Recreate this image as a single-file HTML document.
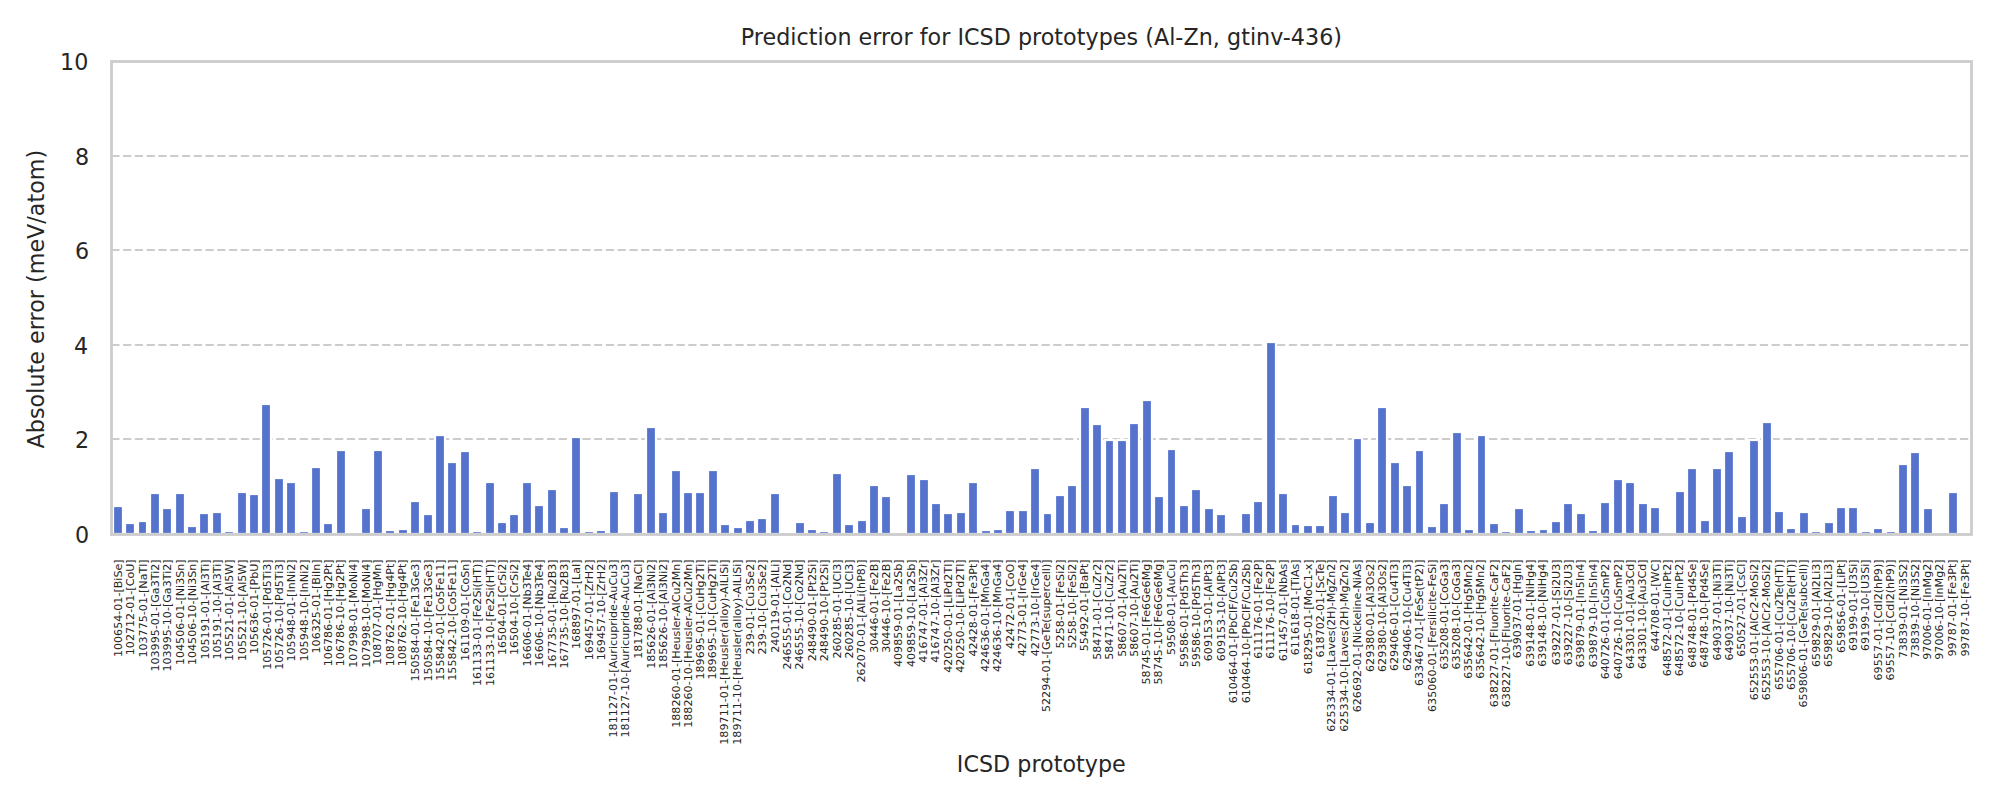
<!DOCTYPE html>
<html lang="en"><head><meta charset="utf-8"><title>Prediction error for ICSD prototypes (Al-Zn, gtinv-436)</title>
<style>html,body{margin:0;padding:0;background:#fff}body{width:2000px;height:800px;overflow:hidden}svg{display:block}text{font-family:"DejaVu Sans","Liberation Sans",sans-serif;fill:#262626}.t8{font-size:22.2222px}.t4{font-size:11.1111px}</style></head><body>
<svg width="2000" height="800" viewBox="0 0 2000 800">
<rect width="2000" height="800" fill="#fff"/>
<g stroke="#cccccc" stroke-width="2.2222" stroke-dasharray="8.2205 3.5548" fill="none">
<line x1="111.30" y1="439" x2="1971.20" y2="439"/>
<line x1="111.30" y1="345" x2="1971.20" y2="345"/>
<line x1="111.30" y1="250" x2="1971.20" y2="250"/>
<line x1="111.30" y1="156" x2="1971.20" y2="156"/>
</g>
<g fill="#5573cd" stroke="#fff" stroke-width="2.2222" stroke-linejoin="miter">
<rect x="113" y="506" width="10" height="28"/>
<rect x="125" y="523" width="10" height="11"/>
<rect x="138" y="521" width="9" height="13"/>
<rect x="150" y="493" width="10" height="41"/>
<rect x="162" y="508" width="10" height="26"/>
<rect x="175" y="493" width="10" height="41"/>
<rect x="187" y="526" width="10" height="8"/>
<rect x="199" y="513" width="10" height="21"/>
<rect x="212" y="512" width="10" height="22"/>
<rect x="224" y="531" width="10" height="3"/>
<rect x="237" y="492" width="10" height="42"/>
<rect x="249" y="494" width="10" height="40"/>
<rect x="261" y="404" width="10" height="130"/>
<rect x="274" y="478" width="10" height="56"/>
<rect x="286" y="482" width="10" height="52"/>
<rect x="299" y="531" width="10" height="3"/>
<rect x="311" y="467" width="10" height="67"/>
<rect x="323" y="523" width="10" height="11"/>
<rect x="336" y="450" width="10" height="84"/>
<rect x="361" y="508" width="10" height="26"/>
<rect x="373" y="450" width="10" height="84"/>
<rect x="385" y="530" width="10" height="4"/>
<rect x="398" y="529" width="10" height="5"/>
<rect x="410" y="501" width="10" height="33"/>
<rect x="423" y="514" width="10" height="20"/>
<rect x="435" y="435" width="10" height="99"/>
<rect x="447" y="462" width="10" height="72"/>
<rect x="460" y="451" width="10" height="83"/>
<rect x="472" y="531" width="10" height="3"/>
<rect x="485" y="482" width="10" height="52"/>
<rect x="497" y="522" width="10" height="12"/>
<rect x="509" y="514" width="10" height="20"/>
<rect x="522" y="482" width="10" height="52"/>
<rect x="534" y="505" width="10" height="29"/>
<rect x="547" y="489" width="10" height="45"/>
<rect x="559" y="527" width="10" height="7"/>
<rect x="571" y="437" width="10" height="97"/>
<rect x="584" y="531" width="10" height="3"/>
<rect x="596" y="530" width="10" height="4"/>
<rect x="609" y="491" width="10" height="43"/>
<rect x="633" y="493" width="10" height="41"/>
<rect x="646" y="427" width="10" height="107"/>
<rect x="658" y="512" width="10" height="22"/>
<rect x="671" y="470" width="10" height="64"/>
<rect x="683" y="492" width="10" height="42"/>
<rect x="695" y="492" width="10" height="42"/>
<rect x="708" y="470" width="10" height="64"/>
<rect x="720" y="524" width="10" height="10"/>
<rect x="733" y="527" width="10" height="7"/>
<rect x="745" y="520" width="10" height="14"/>
<rect x="757" y="518" width="10" height="16"/>
<rect x="770" y="493" width="10" height="41"/>
<rect x="795" y="522" width="10" height="12"/>
<rect x="807" y="529" width="10" height="5"/>
<rect x="819" y="531" width="10" height="3"/>
<rect x="832" y="473" width="10" height="61"/>
<rect x="844" y="524" width="10" height="10"/>
<rect x="857" y="520" width="10" height="14"/>
<rect x="869" y="485" width="10" height="49"/>
<rect x="881" y="496" width="10" height="38"/>
<rect x="906" y="474" width="10" height="60"/>
<rect x="919" y="479" width="10" height="55"/>
<rect x="931" y="503" width="10" height="31"/>
<rect x="943" y="513" width="10" height="21"/>
<rect x="956" y="512" width="10" height="22"/>
<rect x="968" y="482" width="10" height="52"/>
<rect x="981" y="530" width="10" height="4"/>
<rect x="993" y="529" width="10" height="5"/>
<rect x="1005" y="510" width="10" height="24"/>
<rect x="1018" y="510" width="10" height="24"/>
<rect x="1030" y="468" width="10" height="66"/>
<rect x="1043" y="513" width="9" height="21"/>
<rect x="1055" y="495" width="10" height="39"/>
<rect x="1067" y="485" width="10" height="49"/>
<rect x="1080" y="407" width="10" height="127"/>
<rect x="1092" y="424" width="10" height="110"/>
<rect x="1105" y="440" width="9" height="94"/>
<rect x="1117" y="440" width="10" height="94"/>
<rect x="1129" y="423" width="10" height="111"/>
<rect x="1142" y="400" width="10" height="134"/>
<rect x="1154" y="496" width="10" height="38"/>
<rect x="1167" y="449" width="9" height="85"/>
<rect x="1179" y="505" width="10" height="29"/>
<rect x="1191" y="489" width="10" height="45"/>
<rect x="1204" y="508" width="10" height="26"/>
<rect x="1216" y="514" width="10" height="20"/>
<rect x="1241" y="513" width="10" height="21"/>
<rect x="1253" y="501" width="10" height="33"/>
<rect x="1266" y="342" width="10" height="192"/>
<rect x="1278" y="493" width="10" height="41"/>
<rect x="1291" y="524" width="9" height="10"/>
<rect x="1303" y="525" width="10" height="9"/>
<rect x="1315" y="525" width="10" height="9"/>
<rect x="1328" y="495" width="10" height="39"/>
<rect x="1340" y="512" width="10" height="22"/>
<rect x="1353" y="438" width="9" height="96"/>
<rect x="1365" y="522" width="10" height="12"/>
<rect x="1377" y="407" width="10" height="127"/>
<rect x="1390" y="462" width="10" height="72"/>
<rect x="1402" y="485" width="10" height="49"/>
<rect x="1415" y="450" width="9" height="84"/>
<rect x="1427" y="526" width="10" height="8"/>
<rect x="1439" y="503" width="10" height="31"/>
<rect x="1452" y="432" width="10" height="102"/>
<rect x="1464" y="529" width="10" height="5"/>
<rect x="1477" y="435" width="9" height="99"/>
<rect x="1489" y="523" width="10" height="11"/>
<rect x="1501" y="531" width="10" height="3"/>
<rect x="1514" y="508" width="10" height="26"/>
<rect x="1526" y="530" width="10" height="4"/>
<rect x="1539" y="529" width="9" height="5"/>
<rect x="1551" y="521" width="10" height="13"/>
<rect x="1563" y="503" width="10" height="31"/>
<rect x="1576" y="513" width="10" height="21"/>
<rect x="1588" y="530" width="10" height="4"/>
<rect x="1600" y="502" width="10" height="32"/>
<rect x="1613" y="479" width="10" height="55"/>
<rect x="1625" y="482" width="10" height="52"/>
<rect x="1638" y="503" width="10" height="31"/>
<rect x="1650" y="507" width="10" height="27"/>
<rect x="1675" y="491" width="10" height="43"/>
<rect x="1687" y="468" width="10" height="66"/>
<rect x="1700" y="520" width="10" height="14"/>
<rect x="1712" y="468" width="10" height="66"/>
<rect x="1724" y="451" width="10" height="83"/>
<rect x="1737" y="516" width="10" height="18"/>
<rect x="1749" y="440" width="10" height="94"/>
<rect x="1762" y="422" width="10" height="112"/>
<rect x="1774" y="511" width="10" height="23"/>
<rect x="1786" y="528" width="10" height="6"/>
<rect x="1799" y="512" width="10" height="22"/>
<rect x="1811" y="531" width="10" height="3"/>
<rect x="1824" y="522" width="10" height="12"/>
<rect x="1836" y="507" width="10" height="27"/>
<rect x="1848" y="507" width="10" height="27"/>
<rect x="1861" y="531" width="10" height="3"/>
<rect x="1873" y="528" width="10" height="6"/>
<rect x="1886" y="531" width="10" height="3"/>
<rect x="1898" y="464" width="10" height="70"/>
<rect x="1910" y="452" width="10" height="82"/>
<rect x="1923" y="508" width="10" height="26"/>
<rect x="1948" y="492" width="10" height="42"/>
</g>
<rect x="111.5" y="61.5" width="1860" height="473" fill="none" stroke="#cccccc" stroke-width="2.7778"/>
<g class="t8">
<text x="75" y="543" textLength="14.250" lengthAdjust="spacing">0</text>
<text x="75" y="448" textLength="14.125" lengthAdjust="spacing">2</text>
<text x="74" y="354" textLength="14.125" lengthAdjust="spacing">4</text>
<text x="75" y="259" textLength="14.125" lengthAdjust="spacing">6</text>
<text x="75" y="165" textLength="14.125" lengthAdjust="spacing">8</text>
<text x="60" y="70" textLength="28.375" lengthAdjust="spacing">10</text>
</g>
<g class="t4" text-anchor="end">
<text transform="translate(122.00 559.35) rotate(-90)" textLength="97.750" lengthAdjust="spacing">100654-01-[BiSe]</text>
<text transform="translate(134.00 559.35) rotate(-90)" textLength="95.875" lengthAdjust="spacing">102712-01-[CoU]</text>
<text transform="translate(147.00 559.35) rotate(-90)" textLength="98.250" lengthAdjust="spacing">103775-01-[NaTl]</text>
<text transform="translate(159.00 559.35) rotate(-90)" textLength="112.250" lengthAdjust="spacing">103995-01-[Ga3Ti2]</text>
<text transform="translate(171.00 559.35) rotate(-90)" textLength="112.250" lengthAdjust="spacing">103995-10-[Ga3Ti2]</text>
<text transform="translate(184.00 559.35) rotate(-90)" textLength="105.750" lengthAdjust="spacing">104506-01-[Ni3Sn]</text>
<text transform="translate(196.00 559.35) rotate(-90)" textLength="105.750" lengthAdjust="spacing">104506-10-[Ni3Sn]</text>
<text transform="translate(209.00 559.35) rotate(-90)" textLength="100.250" lengthAdjust="spacing">105191-01-[Al3Ti]</text>
<text transform="translate(221.00 559.35) rotate(-90)" textLength="100.250" lengthAdjust="spacing">105191-10-[Al3Ti]</text>
<text transform="translate(233.00 559.35) rotate(-90)" textLength="101.750" lengthAdjust="spacing">105521-01-[Al5W]</text>
<text transform="translate(246.00 559.35) rotate(-90)" textLength="101.750" lengthAdjust="spacing">105521-10-[Al5W]</text>
<text transform="translate(258.00 559.35) rotate(-90)" textLength="94.750" lengthAdjust="spacing">105636-01-[PbU]</text>
<text transform="translate(271.00 559.35) rotate(-90)" textLength="110.500" lengthAdjust="spacing">105726-01-[Pd5Ti3]</text>
<text transform="translate(283.00 559.35) rotate(-90)" textLength="110.500" lengthAdjust="spacing">105726-10-[Pd5Ti3]</text>
<text transform="translate(295.00 559.35) rotate(-90)" textLength="102.250" lengthAdjust="spacing">105948-01-[InNi2]</text>
<text transform="translate(308.00 559.35) rotate(-90)" textLength="102.250" lengthAdjust="spacing">105948-10-[InNi2]</text>
<text transform="translate(320.00 559.35) rotate(-90)" textLength="94.125" lengthAdjust="spacing">106325-01-[BiIn]</text>
<text transform="translate(332.00 559.35) rotate(-90)" textLength="106.875" lengthAdjust="spacing">106786-01-[Hg2Pt]</text>
<text transform="translate(344.00 559.35) rotate(-90)" textLength="106.875" lengthAdjust="spacing">106786-10-[Hg2Pt]</text>
<text transform="translate(357.00 559.35) rotate(-90)" textLength="108.375" lengthAdjust="spacing">107998-01-[MoNi4]</text>
<text transform="translate(370.00 559.35) rotate(-90)" textLength="108.375" lengthAdjust="spacing">107998-10-[MoNi4]</text>
<text transform="translate(381.00 559.35) rotate(-90)" textLength="105.500" lengthAdjust="spacing">108707-01-[HgMn]</text>
<text transform="translate(394.00 559.35) rotate(-90)" textLength="107.000" lengthAdjust="spacing">108762-01-[Hg4Pt]</text>
<text transform="translate(406.00 559.35) rotate(-90)" textLength="107.000" lengthAdjust="spacing">108762-10-[Hg4Pt]</text>
<text transform="translate(419.00 559.35) rotate(-90)" textLength="122.250" lengthAdjust="spacing">150584-01-[Fe13Ge3]</text>
<text transform="translate(432.00 559.35) rotate(-90)" textLength="122.250" lengthAdjust="spacing">150584-10-[Fe13Ge3]</text>
<text transform="translate(444.00 559.35) rotate(-90)" textLength="121.375" lengthAdjust="spacing">155842-01-[Co5Fe11]</text>
<text transform="translate(456.00 559.35) rotate(-90)" textLength="121.375" lengthAdjust="spacing">155842-10-[Co5Fe11]</text>
<text transform="translate(469.00 559.35) rotate(-90)" textLength="101.750" lengthAdjust="spacing">161109-01-[CoSn]</text>
<text transform="translate(481.00 559.35) rotate(-90)" textLength="126.750" lengthAdjust="spacing">161133-01-[Fe2Si(HT)]</text>
<text transform="translate(494.00 559.35) rotate(-90)" textLength="126.750" lengthAdjust="spacing">161133-10-[Fe2Si(HT)]</text>
<text transform="translate(506.00 559.35) rotate(-90)" textLength="95.750" lengthAdjust="spacing">16504-01-[CrSi2]</text>
<text transform="translate(518.00 559.35) rotate(-90)" textLength="95.750" lengthAdjust="spacing">16504-10-[CrSi2]</text>
<text transform="translate(531.00 559.35) rotate(-90)" textLength="107.125" lengthAdjust="spacing">16606-01-[Nb3Te4]</text>
<text transform="translate(543.00 559.35) rotate(-90)" textLength="107.125" lengthAdjust="spacing">16606-10-[Nb3Te4]</text>
<text transform="translate(556.00 559.35) rotate(-90)" textLength="109.250" lengthAdjust="spacing">167735-01-[Ru2B3]</text>
<text transform="translate(568.00 559.35) rotate(-90)" textLength="109.250" lengthAdjust="spacing">167735-10-[Ru2B3]</text>
<text transform="translate(580.00 559.35) rotate(-90)" textLength="89.750" lengthAdjust="spacing">168897-01-[LaI]</text>
<text transform="translate(593.00 559.35) rotate(-90)" textLength="101.000" lengthAdjust="spacing">169457-01-[ZrH2]</text>
<text transform="translate(605.00 559.35) rotate(-90)" textLength="101.000" lengthAdjust="spacing">169457-10-[ZrH2]</text>
<text transform="translate(617.00 559.35) rotate(-90)" textLength="178.125" lengthAdjust="spacing">181127-01-[Auricupride-AuCu3]</text>
<text transform="translate(629.00 559.35) rotate(-90)" textLength="178.125" lengthAdjust="spacing">181127-10-[Auricupride-AuCu3]</text>
<text transform="translate(642.00 559.35) rotate(-90)" textLength="99.500" lengthAdjust="spacing">181788-01-[NaCl]</text>
<text transform="translate(655.00 559.35) rotate(-90)" textLength="109.500" lengthAdjust="spacing">185626-01-[Al3Ni2]</text>
<text transform="translate(667.00 559.35) rotate(-90)" textLength="109.500" lengthAdjust="spacing">185626-10-[Al3Ni2]</text>
<text transform="translate(680.00 559.35) rotate(-90)" textLength="168.500" lengthAdjust="spacing">188260-01-[Heusler-AlCu2Mn]</text>
<text transform="translate(692.00 559.35) rotate(-90)" textLength="168.500" lengthAdjust="spacing">188260-10-[Heusler-AlCu2Mn]</text>
<text transform="translate(704.00 559.35) rotate(-90)" textLength="120.250" lengthAdjust="spacing">189695-01-[CuHg2Ti]</text>
<text transform="translate(716.00 559.35) rotate(-90)" textLength="120.250" lengthAdjust="spacing">189695-10-[CuHg2Ti]</text>
<text transform="translate(728.00 559.35) rotate(-90)" textLength="185.375" lengthAdjust="spacing">189711-01-[Heusler(alloy)-AlLiSi]</text>
<text transform="translate(741.00 559.35) rotate(-90)" textLength="185.375" lengthAdjust="spacing">189711-10-[Heusler(alloy)-AlLiSi]</text>
<text transform="translate(754.00 559.35) rotate(-90)" textLength="95.125" lengthAdjust="spacing">239-01-[Cu3Se2]</text>
<text transform="translate(766.00 559.35) rotate(-90)" textLength="95.125" lengthAdjust="spacing">239-10-[Cu3Se2]</text>
<text transform="translate(779.00 559.35) rotate(-90)" textLength="93.375" lengthAdjust="spacing">240119-01-[AlLi]</text>
<text transform="translate(791.00 559.35) rotate(-90)" textLength="110.250" lengthAdjust="spacing">246555-01-[Co2Nd]</text>
<text transform="translate(803.00 559.35) rotate(-90)" textLength="110.250" lengthAdjust="spacing">246555-10-[Co2Nd]</text>
<text transform="translate(816.00 559.35) rotate(-90)" textLength="102.000" lengthAdjust="spacing">248490-01-[Pt2Si]</text>
<text transform="translate(828.00 559.35) rotate(-90)" textLength="102.000" lengthAdjust="spacing">248490-10-[Pt2Si]</text>
<text transform="translate(841.00 559.35) rotate(-90)" textLength="99.250" lengthAdjust="spacing">260285-01-[UCl3]</text>
<text transform="translate(853.00 559.35) rotate(-90)" textLength="99.250" lengthAdjust="spacing">260285-10-[UCl3]</text>
<text transform="translate(865.00 559.35) rotate(-90)" textLength="123.125" lengthAdjust="spacing">262070-01-[AlLi(hP8)]</text>
<text transform="translate(878.00 559.35) rotate(-90)" textLength="93.500" lengthAdjust="spacing">30446-01-[Fe2B]</text>
<text transform="translate(890.00 559.35) rotate(-90)" textLength="93.500" lengthAdjust="spacing">30446-10-[Fe2B]</text>
<text transform="translate(902.00 559.35) rotate(-90)" textLength="107.750" lengthAdjust="spacing">409859-01-[La2Sb]</text>
<text transform="translate(915.00 559.35) rotate(-90)" textLength="107.750" lengthAdjust="spacing">409859-10-[La2Sb]</text>
<text transform="translate(927.00 559.35) rotate(-90)" textLength="103.375" lengthAdjust="spacing">416747-01-[Al3Zr]</text>
<text transform="translate(939.00 559.35) rotate(-90)" textLength="103.375" lengthAdjust="spacing">416747-10-[Al3Zr]</text>
<text transform="translate(952.00 559.35) rotate(-90)" textLength="113.500" lengthAdjust="spacing">420250-01-[LiPd2Tl]</text>
<text transform="translate(964.00 559.35) rotate(-90)" textLength="113.500" lengthAdjust="spacing">420250-10-[LiPd2Tl]</text>
<text transform="translate(977.00 559.35) rotate(-90)" textLength="97.250" lengthAdjust="spacing">42428-01-[Fe3Pt]</text>
<text transform="translate(989.00 559.35) rotate(-90)" textLength="112.625" lengthAdjust="spacing">424636-01-[MnGa4]</text>
<text transform="translate(1001.00 559.35) rotate(-90)" textLength="112.625" lengthAdjust="spacing">424636-10-[MnGa4]</text>
<text transform="translate(1014.00 559.35) rotate(-90)" textLength="89.750" lengthAdjust="spacing">42472-01-[CoO]</text>
<text transform="translate(1026.00 559.35) rotate(-90)" textLength="96.875" lengthAdjust="spacing">42773-01-[IrGe4]</text>
<text transform="translate(1039.00 559.35) rotate(-90)" textLength="96.875" lengthAdjust="spacing">42773-10-[IrGe4]</text>
<text transform="translate(1050.00 559.35) rotate(-90)" textLength="152.750" lengthAdjust="spacing">52294-01-[GeTe(supercell)]</text>
<text transform="translate(1064.00 559.35) rotate(-90)" textLength="89.125" lengthAdjust="spacing">5258-01-[FeSi2]</text>
<text transform="translate(1076.00 559.35) rotate(-90)" textLength="89.125" lengthAdjust="spacing">5258-10-[FeSi2]</text>
<text transform="translate(1088.00 559.35) rotate(-90)" textLength="91.875" lengthAdjust="spacing">55492-01-[BaPt]</text>
<text transform="translate(1101.00 559.35) rotate(-90)" textLength="100.500" lengthAdjust="spacing">58471-01-[CuZr2]</text>
<text transform="translate(1113.00 559.35) rotate(-90)" textLength="100.500" lengthAdjust="spacing">58471-10-[CuZr2]</text>
<text transform="translate(1126.00 559.35) rotate(-90)" textLength="97.500" lengthAdjust="spacing">58607-01-[Au2Ti]</text>
<text transform="translate(1138.00 559.35) rotate(-90)" textLength="97.500" lengthAdjust="spacing">58607-10-[Au2Ti]</text>
<text transform="translate(1150.00 559.35) rotate(-90)" textLength="125.125" lengthAdjust="spacing">58745-01-[Fe6Ge6Mg]</text>
<text transform="translate(1162.00 559.35) rotate(-90)" textLength="125.125" lengthAdjust="spacing">58745-10-[Fe6Ge6Mg]</text>
<text transform="translate(1175.00 559.35) rotate(-90)" textLength="95.750" lengthAdjust="spacing">59508-01-[AuCu]</text>
<text transform="translate(1188.00 559.35) rotate(-90)" textLength="107.875" lengthAdjust="spacing">59586-01-[Pd5Th3]</text>
<text transform="translate(1200.00 559.35) rotate(-90)" textLength="107.875" lengthAdjust="spacing">59586-10-[Pd5Th3]</text>
<text transform="translate(1212.00 559.35) rotate(-90)" textLength="101.875" lengthAdjust="spacing">609153-01-[AlPt3]</text>
<text transform="translate(1225.00 559.35) rotate(-90)" textLength="101.875" lengthAdjust="spacing">609153-10-[AlPt3]</text>
<text transform="translate(1237.00 559.35) rotate(-90)" textLength="144.000" lengthAdjust="spacing">610464-01-[PbClF/Cu2Sb]</text>
<text transform="translate(1250.00 559.35) rotate(-90)" textLength="144.000" lengthAdjust="spacing">610464-10-[PbClF/Cu2Sb]</text>
<text transform="translate(1262.00 559.35) rotate(-90)" textLength="99.500" lengthAdjust="spacing">611176-01-[Fe2P]</text>
<text transform="translate(1274.00 559.35) rotate(-90)" textLength="99.500" lengthAdjust="spacing">611176-10-[Fe2P]</text>
<text transform="translate(1287.00 559.35) rotate(-90)" textLength="101.875" lengthAdjust="spacing">611457-01-[NbAs]</text>
<text transform="translate(1299.00 559.35) rotate(-90)" textLength="95.875" lengthAdjust="spacing">611618-01-[TiAs]</text>
<text transform="translate(1312.00 559.35) rotate(-90)" textLength="115.000" lengthAdjust="spacing">618295-01-[MoC1-x]</text>
<text transform="translate(1324.00 559.35) rotate(-90)" textLength="98.250" lengthAdjust="spacing">618702-01-[ScTe]</text>
<text transform="translate(1335.00 559.35) rotate(-90)" textLength="172.375" lengthAdjust="spacing">625334-01-[Laves(2H)-MgZn2]</text>
<text transform="translate(1348.00 559.35) rotate(-90)" textLength="172.375" lengthAdjust="spacing">625334-10-[Laves(2H)-MgZn2]</text>
<text transform="translate(1361.00 559.35) rotate(-90)" textLength="153.000" lengthAdjust="spacing">626692-01-[Nickeline-NiAs]</text>
<text transform="translate(1374.00 559.35) rotate(-90)" textLength="112.625" lengthAdjust="spacing">629380-01-[Al3Os2]</text>
<text transform="translate(1386.00 559.35) rotate(-90)" textLength="112.625" lengthAdjust="spacing">629380-10-[Al3Os2]</text>
<text transform="translate(1398.00 559.35) rotate(-90)" textLength="111.750" lengthAdjust="spacing">629406-01-[Cu4Ti3]</text>
<text transform="translate(1411.00 559.35) rotate(-90)" textLength="111.750" lengthAdjust="spacing">629406-10-[Cu4Ti3]</text>
<text transform="translate(1423.00 559.35) rotate(-90)" textLength="126.750" lengthAdjust="spacing">633467-01-[FeSe(tP2)]</text>
<text transform="translate(1436.00 559.35) rotate(-90)" textLength="152.625" lengthAdjust="spacing">635060-01-[Fersilicite-FeSi]</text>
<text transform="translate(1448.00 559.35) rotate(-90)" textLength="110.125" lengthAdjust="spacing">635208-01-[CoGa3]</text>
<text transform="translate(1460.00 559.35) rotate(-90)" textLength="110.125" lengthAdjust="spacing">635208-10-[CoGa3]</text>
<text transform="translate(1472.00 559.35) rotate(-90)" textLength="119.500" lengthAdjust="spacing">635642-01-[Hg5Mn2]</text>
<text transform="translate(1484.00 559.35) rotate(-90)" textLength="119.500" lengthAdjust="spacing">635642-10-[Hg5Mn2]</text>
<text transform="translate(1498.00 559.35) rotate(-90)" textLength="147.875" lengthAdjust="spacing">638227-01-[Fluorite-CaF2]</text>
<text transform="translate(1510.00 559.35) rotate(-90)" textLength="147.875" lengthAdjust="spacing">638227-10-[Fluorite-CaF2]</text>
<text transform="translate(1521.00 559.35) rotate(-90)" textLength="99.000" lengthAdjust="spacing">639037-01-[HgIn]</text>
<text transform="translate(1534.00 559.35) rotate(-90)" textLength="107.375" lengthAdjust="spacing">639148-01-[NiHg4]</text>
<text transform="translate(1546.00 559.35) rotate(-90)" textLength="107.375" lengthAdjust="spacing">639148-10-[NiHg4]</text>
<text transform="translate(1560.00 559.35) rotate(-90)" textLength="105.875" lengthAdjust="spacing">639227-01-[Si2U3]</text>
<text transform="translate(1572.00 559.35) rotate(-90)" textLength="105.875" lengthAdjust="spacing">639227-10-[Si2U3]</text>
<text transform="translate(1584.00 559.35) rotate(-90)" textLength="108.250" lengthAdjust="spacing">639879-01-[In5In4]</text>
<text transform="translate(1597.00 559.35) rotate(-90)" textLength="108.250" lengthAdjust="spacing">639879-10-[In5In4]</text>
<text transform="translate(1609.00 559.35) rotate(-90)" textLength="120.000" lengthAdjust="spacing">640726-01-[CuSmP2]</text>
<text transform="translate(1622.00 559.35) rotate(-90)" textLength="120.000" lengthAdjust="spacing">640726-10-[CuSmP2]</text>
<text transform="translate(1634.00 559.35) rotate(-90)" textLength="109.625" lengthAdjust="spacing">643301-01-[Au3Cd]</text>
<text transform="translate(1646.00 559.35) rotate(-90)" textLength="109.625" lengthAdjust="spacing">643301-10-[Au3Cd]</text>
<text transform="translate(1659.00 559.35) rotate(-90)" textLength="92.125" lengthAdjust="spacing">644708-01-[WC]</text>
<text transform="translate(1671.00 559.35) rotate(-90)" textLength="116.875" lengthAdjust="spacing">648572-01-[CuInPt2]</text>
<text transform="translate(1683.00 559.35) rotate(-90)" textLength="116.875" lengthAdjust="spacing">648572-10-[CuInPt2]</text>
<text transform="translate(1696.00 559.35) rotate(-90)" textLength="108.500" lengthAdjust="spacing">648748-01-[Pd4Se]</text>
<text transform="translate(1708.00 559.35) rotate(-90)" textLength="108.500" lengthAdjust="spacing">648748-10-[Pd4Se]</text>
<text transform="translate(1721.00 559.35) rotate(-90)" textLength="101.250" lengthAdjust="spacing">649037-01-[Ni3Ti]</text>
<text transform="translate(1733.00 559.35) rotate(-90)" textLength="101.250" lengthAdjust="spacing">649037-10-[Ni3Ti]</text>
<text transform="translate(1745.00 559.35) rotate(-90)" textLength="97.500" lengthAdjust="spacing">650527-01-[CsCl]</text>
<text transform="translate(1758.00 559.35) rotate(-90)" textLength="141.000" lengthAdjust="spacing">652553-01-[AlCr2-MoSi2]</text>
<text transform="translate(1770.00 559.35) rotate(-90)" textLength="141.000" lengthAdjust="spacing">652553-10-[AlCr2-MoSi2]</text>
<text transform="translate(1783.00 559.35) rotate(-90)" textLength="130.625" lengthAdjust="spacing">655706-01-[Cu2Te(HT)]</text>
<text transform="translate(1795.00 559.35) rotate(-90)" textLength="130.625" lengthAdjust="spacing">655706-10-[Cu2Te(HT)]</text>
<text transform="translate(1807.00 559.35) rotate(-90)" textLength="148.250" lengthAdjust="spacing">659806-01-[GeTe(subcell)]</text>
<text transform="translate(1820.00 559.35) rotate(-90)" textLength="107.625" lengthAdjust="spacing">659829-01-[Al2Li3]</text>
<text transform="translate(1832.00 559.35) rotate(-90)" textLength="107.625" lengthAdjust="spacing">659829-10-[Al2Li3]</text>
<text transform="translate(1845.00 559.35) rotate(-90)" textLength="93.625" lengthAdjust="spacing">659856-01-[LiPt]</text>
<text transform="translate(1857.00 559.35) rotate(-90)" textLength="91.625" lengthAdjust="spacing">69199-01-[U3Si]</text>
<text transform="translate(1869.00 559.35) rotate(-90)" textLength="91.625" lengthAdjust="spacing">69199-10-[U3Si]</text>
<text transform="translate(1882.00 559.35) rotate(-90)" textLength="121.125" lengthAdjust="spacing">69557-01-[CdI2(hP9)]</text>
<text transform="translate(1894.00 559.35) rotate(-90)" textLength="121.125" lengthAdjust="spacing">69557-10-[CdI2(hP9)]</text>
<text transform="translate(1907.00 559.35) rotate(-90)" textLength="99.000" lengthAdjust="spacing">73839-01-[Ni3S2]</text>
<text transform="translate(1919.00 559.35) rotate(-90)" textLength="99.000" lengthAdjust="spacing">73839-10-[Ni3S2]</text>
<text transform="translate(1931.00 559.35) rotate(-90)" textLength="100.375" lengthAdjust="spacing">97006-01-[InMg2]</text>
<text transform="translate(1943.00 559.35) rotate(-90)" textLength="100.375" lengthAdjust="spacing">97006-10-[InMg2]</text>
<text transform="translate(1956.00 559.35) rotate(-90)" textLength="97.250" lengthAdjust="spacing">99787-01-[Fe3Pt]</text>
<text transform="translate(1969.00 559.35) rotate(-90)" textLength="97.250" lengthAdjust="spacing">99787-10-[Fe3Pt]</text>
</g>
<text class="t8" text-anchor="middle" x="1041.4" y="44.8" textLength="601.250" lengthAdjust="spacing">Prediction error for ICSD prototypes (Al-Zn, gtinv-436)</text>
<text class="t8" text-anchor="middle" x="1041.3" y="772" textLength="168.875" lengthAdjust="spacing">ICSD prototype</text>
<text class="t8" text-anchor="middle" transform="translate(43.9 299.1) rotate(-90)" textLength="298.625" lengthAdjust="spacing">Absolute error (meV/atom)</text>
</svg></body></html>
